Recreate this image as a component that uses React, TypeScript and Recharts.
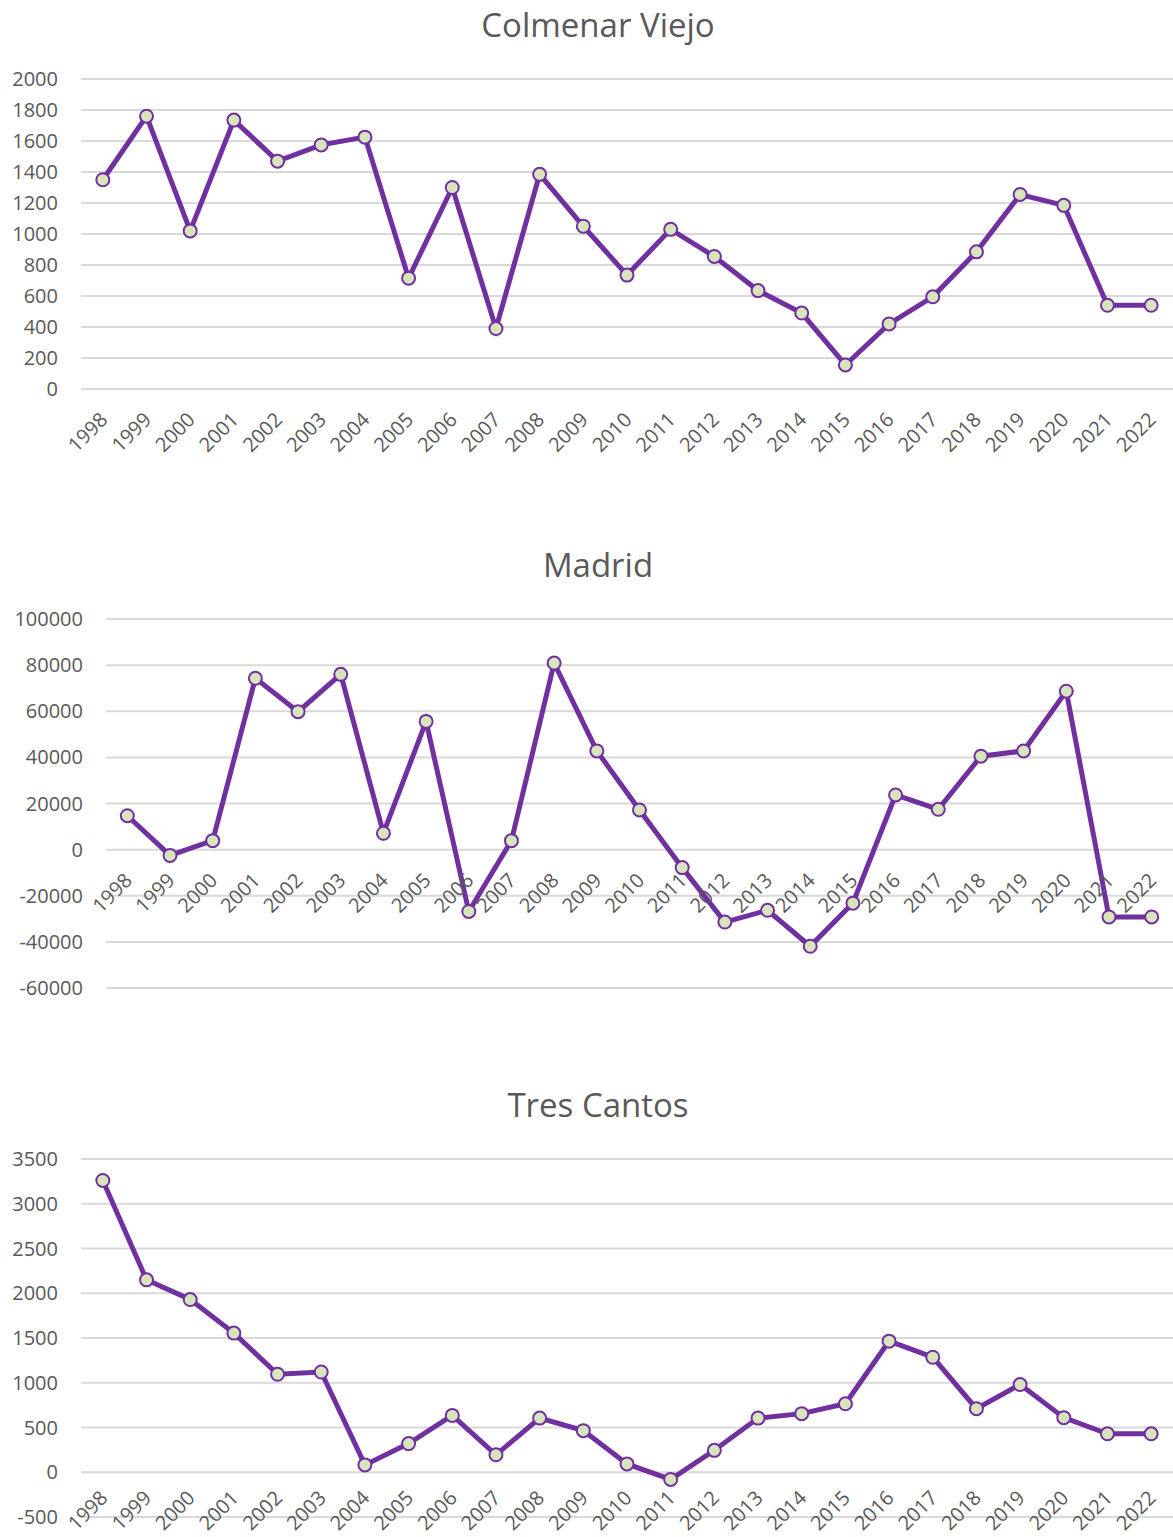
import React from 'react';
import { LineChart, Line, XAxis, YAxis, CartesianGrid } from 'recharts';

const years = [
  '1998', '1999', '2000', '2001', '2002', '2003', '2004', '2005', '2006', '2007', '2008', '2009',
  '2010', '2011', '2012', '2013', '2014', '2015', '2016', '2017', '2018', '2019', '2020', '2021', '2022',
];

const colmenarViejo = [
  1350, 1760, 1020, 1735, 1470, 1575, 1625, 715, 1300, 390, 1385, 1050,
  735, 1030, 855, 635, 490, 155, 420, 595, 885, 1255, 1185, 540, 540,
];

const madrid = [
  14700, -2500, 3900, 74300, 59800, 76000, 7100, 55600, -26800, 3900, 80900, 42800,
  17200, -7800, -31400, -26300, -41900, -23200, 23700, 17500, 40500, 42800, 68700, -29200, -29200,
];

const tresCantos = [
  3260, 2150, 1930, 1555, 1095, 1120, 82, 320, 635, 195, 605, 465,
  93, -80, 245, 605, 655, 765, 1465, 1285, 710, 980, 610, 430, 430,
];

const colmenarTicks = [0, 200, 400, 600, 800, 1000, 1200, 1400, 1600, 1800, 2000];
const madridTicks = [-60000, -40000, -20000, 0, 20000, 40000, 60000, 80000, 100000];
const tresCantosTicks = [-500, 0, 500, 1000, 1500, 2000, 2500, 3000, 3500];

const WIDTH = 1173;
const FONT = '"Open Sans", "Noto Sans", sans-serif';
const TEXT = '#595959';
const PURPLE = '#7030a0';

type PanelProps = {
  title: string;
  values: number[];
  ticks: number[];
  top: number;
  height: number;
  plotLeft: number;
  plotTop: number;
  plotBottom: number;
  labelDrop?: number;
};

const Panel = ({ title, values, ticks, top, height, plotLeft, plotTop, plotBottom, labelDrop = 32 }: PanelProps) => {
  const data = years.map((year, i) => ({ year, value: values[i] }));
  const min = ticks[0];
  const max = ticks[ticks.length - 1];
  // x labels sit on the zero line, like Excel does
  const zeroShift = ((plotBottom - plotTop) * (0 - min)) / (max - min);
  const band = (WIDTH - plotLeft) / years.length;

  const YearTick = (props: any) => {
    const { x, y, payload } = props;
    const ax = x + 6;
    const ay = y - zeroShift + labelDrop;
    return (
      <text
        x={ax}
        y={ay}
        transform={`rotate(-45, ${ax}, ${ay})`}
        textAnchor="end"
        fill={TEXT}
        fontSize={20}
        fontFamily={FONT}
      >
        {payload.value}
      </text>
    );
  };

  return (
    <div style={{ position: 'absolute', left: 0, top, width: WIDTH, height }}>
      <div
        style={{
          position: 'absolute',
          left: 0,
          top: 8,
          width: 1196,
          textAlign: 'center',
          fontFamily: FONT,
          fontSize: 33,
          lineHeight: '33px',
          color: TEXT,
        }}
      >
        {title}
      </div>
      <LineChart
        width={WIDTH}
        height={height}
        data={data}
        margin={{ top: plotTop, right: 0, left: 0, bottom: height - plotBottom - 20 }}
      >
        <CartesianGrid vertical={false} stroke="#d9d9d9" strokeWidth={2} />
        <XAxis
          dataKey="year"
          height={20}
          interval={0}
          axisLine={false}
          tickLine={false}
          tickSize={0}
          tickMargin={0}
          tick={<YearTick />}
          padding={{ left: band / 2, right: band / 2 }}
        />
        <YAxis
          width={plotLeft}
          domain={[min, max]}
          ticks={ticks}
          interval={0}
          axisLine={false}
          tickLine={false}
          tickSize={0}
          tickMargin={23}
          tick={{ fill: TEXT, fontSize: 20, fontFamily: FONT }}
        />
        <Line
          dataKey="value"
          stroke={PURPLE}
          strokeWidth={5}
          dot={{ r: 6.5, fill: '#d8e4bc', stroke: PURPLE, strokeWidth: 2 }}
          isAnimationActive={false}
        />
      </LineChart>
    </div>
  );
};

export default function App() {
  return (
    <div style={{ position: 'absolute', left: 0, top: 0, width: WIDTH, height: 1537, background: '#fff', overflow: 'hidden' }}>
      <Panel title="Colmenar Viejo" values={colmenarViejo} ticks={colmenarTicks}
        top={0} height={470} plotLeft={81} plotTop={79} plotBottom={389} />
      <Panel title="Madrid" values={madrid} ticks={madridTicks}
        top={540} height={470} plotLeft={106} plotTop={79} plotBottom={448} />
      <Panel title="Tres Cantos" values={tresCantos} ticks={tresCantosTicks}
        top={1080} height={457} plotLeft={81} plotTop={79} plotBottom={437} labelDrop={27} />
    </div>
  );
}
